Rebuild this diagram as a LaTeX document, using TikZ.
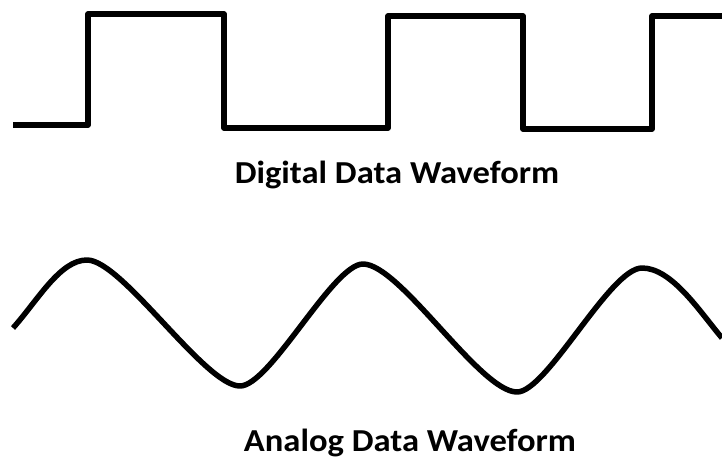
\documentclass[tikz,border=0pt]{standalone}
\usepackage{fontspec}
\setmainfont{Carlito}
\begin{document}
\begin{tikzpicture}[x=1pt,y=-1pt,
  wave/.style={line width=5.5pt,line join=round,black},
  caption/.style={font=\fontsize{32}{36}\selectfont\bfseries,anchor=base,inner sep=0pt,xscale=1.08}]
\useasboundingbox (0,0) rectangle (722,458);
% digital waveform
\draw[wave] (13,125) -- (88,125) -- (88,14) -- (224,14) -- (224,128) -- (388,128)
  -- (388,16) -- (523,16) -- (523,129) -- (652,129) -- (652,16) -- (722,16);
\node[caption] (dlabel) at (397,183) {Digital Data Waveform};
% analog waveform
\draw[wave] (13,328) .. controls (38,300) and (60,260) .. (87,260)
  .. controls (122,260) and (205,386) .. (240,386)
  .. controls (270,386) and (333,264) .. (363,264)
  .. controls (400,264) and (480,392) .. (517,392)
  .. controls (547,392) and (610,268) .. (642,268)
  .. controls (672,268) and (700,312) .. (722,338);
\node[caption] (alabel) at (410,451) {Analog Data Waveform};
\end{tikzpicture}
\end{document}
